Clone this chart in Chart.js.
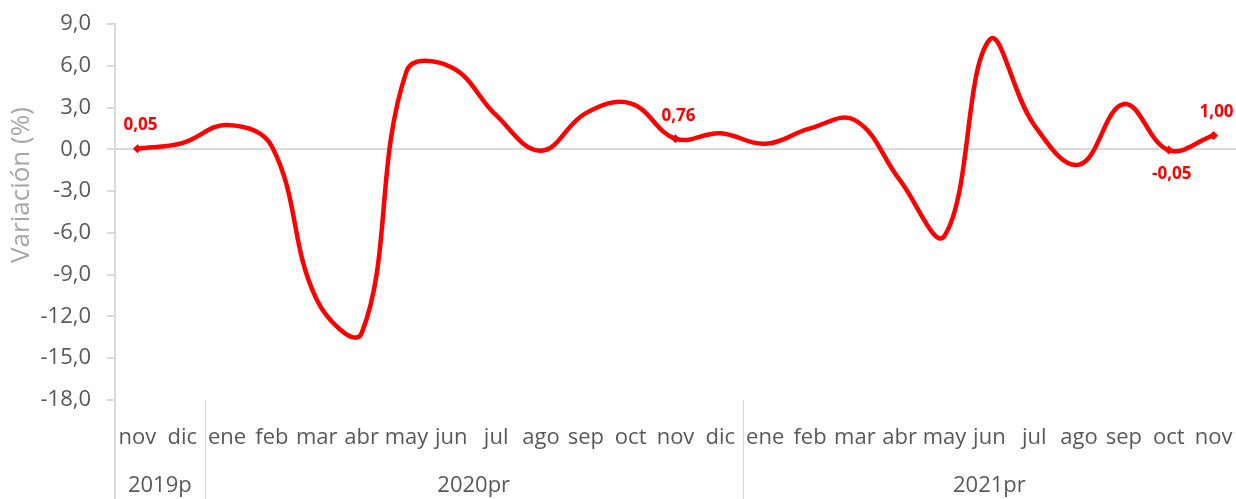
<!DOCTYPE html>
<html>
<head>
<meta charset="utf-8">
<script src="https://cdn.jsdelivr.net/npm/chart.js@4/dist/chart.umd.min.js"></script>
<style>
  html, body { margin: 0; padding: 0; background: #fff; }
  #wrap { width: 1236px; height: 499px; position: relative; }
</style>
</head>
<body>
<div id="wrap"><canvas id="varChart"></canvas></div>
<script>
// meses y grupos de años
const meses = ['nov', 'dic',
  'ene', 'feb', 'mar', 'abr', 'may', 'jun', 'jul', 'ago', 'sep', 'oct', 'nov', 'dic',
  'ene', 'feb', 'mar', 'abr', 'may', 'jun', 'jul', 'ago', 'sep', 'oct', 'nov'];
const anios = ['2019p', '2020pr', '2021pr'];
const mesesPorAnio = [2, 12, 11];

// variación mensual (%)
const variacion = [0.05, 0.45,
  1.75, 0.2, -10.8, -13.2, 5.6, 5.9, 2.45, -0.1, 2.6, 3.3, 0.76, 1.15,
  0.4, 1.5, 2.1, -2.2, -6.2, 7.85, 1.75, -1.1, 3.25, -0.05, 1.00];

// puntos con etiqueta
const etiquetados = [0, 12, 23, 24];

const yTicks = [9, 6, 3, 0, -3, -6, -9, -12, -15, -18];

const fmt = v => v.toLocaleString('es-CO', { minimumFractionDigits: 1, maximumFractionDigits: 1 });
const fmt2 = v => v.toLocaleString('es-CO', { minimumFractionDigits: 2, maximumFractionDigits: 2 });

const ejeGris = '#d9d9d9';
const textoGris = '#595959';

// etiquetas de datos, años y separadores
const extrasPlugin = {
  id: 'extras',
  afterDatasetsDraw(chart) {
    const ctx = chart.ctx;
    const meta = chart.getDatasetMeta(0);
    ctx.save();
    ctx.fillStyle = '#ff0000';
    ctx.font = 'bold 17px "Open Sans"';
    ctx.textAlign = 'center';
    ctx.textBaseline = 'middle';
    etiquetados.forEach(i => {
      const p = meta.data[i];
      const v = variacion[i];
      const dy = v < 0 ? 24 : -23;
      ctx.fillText(fmt2(v), p.x + 3, p.y + dy);
    });
    ctx.restore();
  },
  afterDraw(chart) {
    const ctx = chart.ctx;
    const area = chart.chartArea;
    const band = (area.right - area.left) / meses.length;
    ctx.save();
    ctx.strokeStyle = ejeGris;
    ctx.lineWidth = 2;
    // línea del eje y hasta abajo
    ctx.beginPath();
    ctx.moveTo(area.left, area.bottom);
    ctx.lineTo(area.left, chart.height);
    ctx.stroke();
    ctx.lineWidth = 1;
    ctx.fillStyle = textoGris;
    ctx.font = '22px "Open Sans"';
    ctx.textAlign = 'center';
    ctx.textBaseline = 'middle';
    let start = 0;
    anios.forEach((a, k) => {
      const n = mesesPorAnio[k];
      const x0 = area.left + start * band;
      const x1 = area.left + (start + n) * band;
      if (k > 0) {
        ctx.beginPath();
        ctx.moveTo(Math.round(x0) + 0.5, area.bottom);
        ctx.lineTo(Math.round(x0) + 0.5, chart.height);
        ctx.stroke();
      }
      ctx.fillText(a, (x0 + x1) / 2, 486);
      start += n;
    });
    // título del eje y
    ctx.fillStyle = '#a6a6a6';
    ctx.font = '26px "Open Sans"';
    ctx.translate(22, 185);
    ctx.rotate(-Math.PI / 2);
    ctx.fillText('Variación (%)', 0, 0);
    ctx.restore();
  }
};

const chart = new Chart(document.getElementById('varChart'), {
  type: 'line',
  data: {
    labels: meses,
    datasets: [{
      data: variacion,
      borderColor: '#ff0000',
      backgroundColor: '#ff0000',
      borderWidth: 4.5,
      tension: 0.4,
      fill: false,
      pointStyle: 'rectRot',
      pointRadius: variacion.map((v, i) => etiquetados.includes(i) ? 4.5 : 0),
      pointBorderWidth: 0
    }]
  },
  options: {
    responsive: true,
    maintainAspectRatio: false,
    animation: false,
    layout: { autoPadding: false, padding: { top: 24, right: 0, left: 0, bottom: 0 } },
    plugins: { legend: { display: false }, tooltip: { enabled: false } },
    scales: {
      x: {
        offset: true,
        grid: { display: false },
        border: { display: false },
        ticks: {
          color: textoGris,
          font: { family: 'Open Sans', size: 22 },
          maxRotation: 0,
          autoSkip: false,
          padding: 17
        },
        afterFit: s => { s.height = 99; s.paddingLeft = 0; s.paddingRight = 0; }
      },
      y: {
        min: -18,
        max: 9,
        afterBuildTicks: s => { s.ticks = yTicks.map(v => ({ value: v })); },
        grid: {
          color: c => c.tick && c.tick.value === 0 ? ejeGris : 'transparent',
          tickColor: ejeGris,
          tickLength: 8,
          lineWidth: 2
        },
        border: { color: ejeGris, width: 2 },
        ticks: {
          color: textoGris,
          font: { family: 'Open Sans', size: 22 },
          padding: 16,
          callback: v => fmt(v)
        },
        afterFit: s => { s.width = 115; s.paddingTop = 0; s.paddingBottom = 0; }
      }
    }
  },
  plugins: [extrasPlugin]
});
</script>
</body>
</html>
